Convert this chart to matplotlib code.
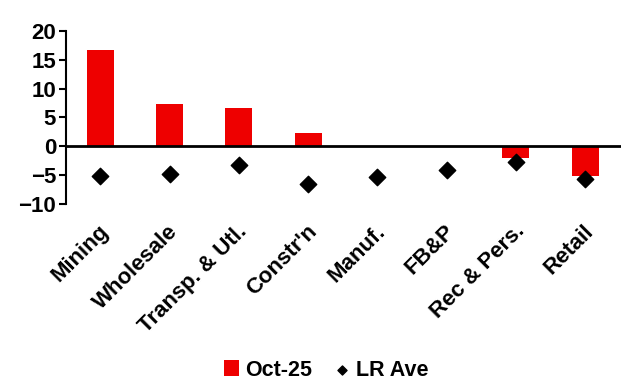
import numpy as np
import matplotlib.pyplot as plt

plt.rcParams['font.family'] = ['Liberation Sans', 'DejaVu Sans']
plt.rcParams['font.weight'] = 'bold'

sectors = ['Mining', 'Wholesale', 'Transp. & Utl.', "Constr'n", 'Manuf.', 'FB&P', 'Rec & Pers.', 'Retail']
oct25 = [16.7, 7.35, 6.7, 2.35, 0.0, 0.0, -1.95, -5.2]
lr_ave = [-5.1, -4.8, -3.2, -6.55, -5.3, -4.1, -2.7, -5.7]

x = np.arange(len(sectors))

fig = plt.figure(figsize=(6.21, 3.87), dpi=100)
ax = fig.add_axes([0.106, 0.473, 0.892, 0.447])

bars = ax.bar(x, oct25, width=0.39, color='#ee0000', label='Oct-25', zorder=2)
pts = ax.scatter(x, lr_ave, marker='D', s=70, color='black', label='LR Ave', zorder=3)

ax.set_xlim(-0.5, len(sectors) - 0.5)
ax.set_ylim(-10, 20)
ax.set_yticks([-10, -5, 0, 5, 10, 15, 20])
ax.tick_params(axis='y', direction='out', length=5, width=1.5, labelsize=16, pad=2)

ax.spines['top'].set_visible(False)
ax.spines['right'].set_visible(False)
ax.spines['bottom'].set_position(('data', 0))
ax.spines['bottom'].set_linewidth(2)
ax.spines['bottom'].set_zorder(4)
ax.spines['left'].set_linewidth(1.5)

ax.set_xticks(x)
ax.set_xticklabels([])
ax.tick_params(axis='x', length=0)
for xi, name in zip(x, sectors):
    ax.annotate(name, xy=(xi, -10), xytext=(-1.5, -12), textcoords='offset points',
                rotation=45, ha='right', va='top', rotation_mode='anchor',
                fontsize=16, fontweight='bold')

fig.legend([bars, pts], ['Oct-25', 'LR Ave'], loc='center',
           bbox_to_anchor=(326 / 621, 1 - 370 / 387), ncol=2, frameon=False,
           fontsize=15.5, handlelength=0.7, handletextpad=0.3, columnspacing=1.0,
           markerscale=0.55)

fig.savefig('out.png', dpi=100)
